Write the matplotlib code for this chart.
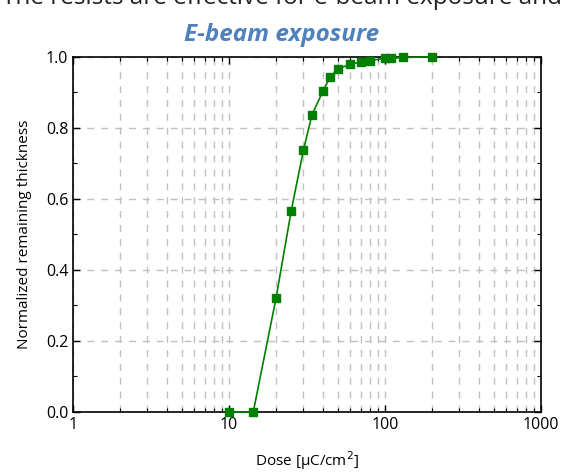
"""E-beam exposure contrast curve"""

import matplotlib
matplotlib.use("Agg")
import matplotlib.pyplot as plt
from matplotlib.ticker import MultipleLocator, LogLocator, NullFormatter

# Dose in uC/cm^2 and normalized remaining thickness
dose = [10, 14.3, 20, 25, 30, 34, 40, 44.5, 50, 60, 70, 80, 100, 110, 130, 200]
thickness = [0.0, 0.0, 0.32, 0.565, 0.738, 0.837, 0.904, 0.944, 0.966, 0.980,
             0.986, 0.990, 0.996, 0.996, 0.999, 1.0]
x_ticks = [1, 10, 100, 1000]
x_tick_labels = ["1", "10", "100", "1000"]

plt.rcParams['font.family'] = ['Open Sans', 'DejaVu Sans']

fig = plt.figure(figsize=(5.63, 4.73), dpi=100)
ax = fig.add_axes([0.1297, 0.129, 0.8313, 0.7505])

ax.plot(dose, thickness, color="#008000", linewidth=1.2, marker="s",
        markersize=5.5, clip_on=False, zorder=3)

ax.set_xscale("log")
ax.set_xlim(1, 1000)
ax.set_ylim(0, 1.0)
ax.set_xticks(x_ticks)
ax.set_xticklabels(x_tick_labels)
ax.xaxis.set_minor_locator(LogLocator(base=10, subs=range(2, 10)))
ax.xaxis.set_minor_formatter(NullFormatter())
ax.yaxis.set_major_locator(MultipleLocator(0.2))
ax.yaxis.set_minor_locator(MultipleLocator(0.1))
ax.yaxis.set_major_formatter(plt.FuncFormatter(lambda v, p: f"{v:.1f}"))

ax.tick_params(which="both", direction="in", top=True, right=True, labelsize=11.5)
ax.tick_params(which="major", length=5, width=1)
ax.tick_params(which="minor", length=3, width=0.8)
for s in ax.spines.values():
    s.set_linewidth(1.2)

ax.grid(True, which="major", axis="both", color="#c0c0c0", linestyle=(0, (5, 5)), linewidth=1)
ax.grid(True, which="minor", axis="x", color="#c0c0c0", linestyle=(0, (5, 5)), linewidth=1)

ax.set_xlabel("Dose [μC/cm$^2$]", fontsize=11, labelpad=12)
ax.set_ylabel("Normalized remaining thickness", fontsize=11, labelpad=10)

fig.text(0.5, 0.925, "E-beam exposure", ha="center", va="center", fontsize=17.5,
         fontweight="bold", fontstyle="italic", color="#4f81bd")
fig.text(0.5, 1.005, "The resists are effective for e-beam exposure and", ha="center",
         va="center", fontsize=17.5, color="#222222")

fig.savefig("out.png", dpi=100)
